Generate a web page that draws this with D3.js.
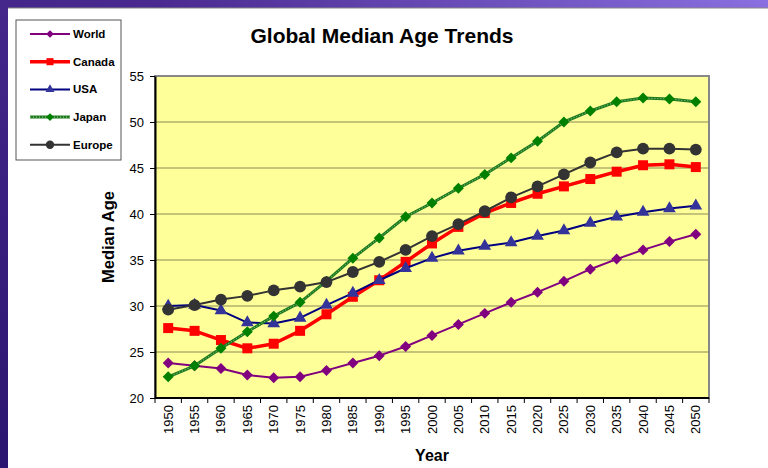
<!DOCTYPE html>
<html>
<head>
<meta charset="utf-8">
<script src="https://cdn.jsdelivr.net/npm/d3@7"></script>
<style>
  body { margin: 0; padding: 0; }
  svg { display: block; font-family: Arial, "Liberation Sans", sans-serif; }
</style>
</head>
<body>
<script>
// Chart data
var years = [1950, 1955, 1960, 1965, 1970, 1975, 1980, 1985, 1990, 1995, 2000,
             2005, 2010, 2015, 2020, 2025, 2030, 2035, 2040, 2045, 2050];
var world  = [23.8, 23.5, 23.2, 22.5, 22.2, 22.3, 23.0, 23.8, 24.6, 25.6, 26.8,
              28.0, 29.2, 30.4, 31.5, 32.7, 34.0, 35.1, 36.1, 37.0, 37.8];
var canada = [27.6, 27.3, 26.3, 25.4, 25.9, 27.3, 29.1, 31.0, 32.8, 34.8, 36.8,
              38.6, 40.1, 41.2, 42.2, 43.0, 43.8, 44.6, 45.3, 45.4, 45.1];
var usa    = [30.0, 30.1, 29.5, 28.2, 28.1, 28.7, 30.1, 31.4, 32.8, 34.1, 35.2,
              36.0, 36.5, 36.9, 37.6, 38.2, 39.0, 39.7, 40.2, 40.6, 40.9];
var japan  = [22.3, 23.5, 25.4, 27.2, 28.9, 30.4, 32.7, 35.2, 37.4, 39.7, 41.2,
              42.8, 44.3, 46.1, 47.9, 50.0, 51.2, 52.2, 52.6, 52.5, 52.2];
var europe = [29.6, 30.1, 30.7, 31.1, 31.7, 32.1, 32.6, 33.7, 34.8, 36.1, 37.6,
              38.9, 40.3, 41.8, 43.0, 44.3, 45.6, 46.7, 47.1, 47.1, 47.0];
var yTicks = [20, 25, 30, 35, 40, 45, 50, 55];

// diamonds are squares turned 45 degrees, as in the original
var series = [
  {name: "World",  values: world,  color: "#800080", marker: "#800080", width: 2, shape: d3.symbolSquare, size: 60, rot: 45},
  {name: "Canada", values: canada, color: "#ff0000", marker: "#ff0000", width: 3.5, shape: d3.symbolSquare, size: 100, rot: 0},
  {name: "USA",    values: usa,    color: "#000080", marker: "#333399", width: 2, shape: d3.symbolTriangle, size: 70, rot: 0},
  {name: "Japan",  values: japan,  color: "#1f7a1f", marker: "#008000", width: 3, shape: d3.symbolSquare, size: 60, rot: 45, dotted: true},
  {name: "Europe", values: europe, color: "#333333", marker: "#333333", width: 2, shape: d3.symbolCircle, size: 110, rot: 0}
];

var W = 768, H = 468;
var plot = {left: 155, top: 76, right: 709, bottom: 398};

var svg = d3.select("body").append("svg")
    .attr("width", W)
    .attr("height", H);

// purple slide background
var defs = svg.append("defs");
var grad = defs.append("linearGradient")
    .attr("id", "bg")
    .attr("x1", "0%").attr("y1", "100%")
    .attr("x2", "100%").attr("y2", "0%");
grad.append("stop").attr("offset", "0%").attr("stop-color", "#2a1670");
grad.append("stop").attr("offset", "60%").attr("stop-color", "#4a2a90");
grad.append("stop").attr("offset", "100%").attr("stop-color", "#8a70e0");

svg.append("rect").attr("width", W).attr("height", H).attr("fill", "url(#bg)");
svg.append("rect")
    .attr("x", 8).attr("y", 8)
    .attr("width", W - 8).attr("height", H - 8)
    .attr("fill", "#ffffff");
svg.append("line")
    .attr("x1", 8).attr("x2", W).attr("y1", 8).attr("y2", 8)
    .attr("stroke", "#888").attr("stroke-width", 1);

// scales
var x = d3.scaleBand()
    .domain(years)
    .range([plot.left, plot.right]);
var y = d3.scaleLinear()
    .domain([20, 55])
    .range([plot.bottom, plot.top]);

// plot area
svg.append("rect")
    .attr("x", plot.left).attr("y", plot.top)
    .attr("width", plot.right - plot.left)
    .attr("height", plot.bottom - plot.top)
    .attr("fill", "#ffff99")
    .attr("stroke", "#888888")
    .attr("stroke-width", 2);

// gridlines
svg.append("g")
    .selectAll("line")
    .data(yTicks.filter(function(t) { return t > 20 && t < 55; }))
    .enter()
    .append("line")
    .attr("x1", plot.left).attr("x2", plot.right)
    .attr("y1", function(d) { return y(d); })
    .attr("y2", function(d) { return y(d); })
    .attr("stroke", "#8a8a5a")
    .attr("stroke-width", 1);

// y axis
var yAxis = d3.axisLeft(y)
    .tickValues(yTicks)
    .tickSize(5)
    .tickSizeOuter(0)
    .tickPadding(6);
var gy = svg.append("g")
    .attr("transform", "translate(" + plot.left + ",0)")
    .call(yAxis);
gy.select(".domain").attr("stroke", "#000").attr("stroke-width", 2);
gy.selectAll(".tick line").attr("stroke", "#000");
gy.selectAll("text")
    .attr("font-size", "13px")
    .attr("font-family", "Arial, 'Liberation Sans', sans-serif")
    .attr("fill", "#000");

// x axis: ticks between categories
var gx = svg.append("g")
    .attr("transform", "translate(0," + plot.bottom + ")");
gx.append("line")
    .attr("x1", plot.left).attr("x2", plot.right)
    .attr("stroke", "#000").attr("stroke-width", 2);
gx.selectAll(".tk")
    .data(years.concat(["end"]))
    .enter()
    .append("line")
    .attr("class", "tk")
    .attr("x1", function(d, i) { return i < years.length ? x(d) : plot.right; })
    .attr("x2", function(d, i) { return i < years.length ? x(d) : plot.right; })
    .attr("y1", 0).attr("y2", 5)
    .attr("stroke", "#000");
gx.selectAll(".lbl")
    .data(years)
    .enter()
    .append("text")
    .attr("class", "lbl")
    .attr("transform", function(d) {
        return "translate(" + (x(d) + x.bandwidth() / 2 + 4.5) + ",7) rotate(-90)";
    })
    .attr("text-anchor", "end")
    .attr("font-size", "13px")
    .text(function(d) { return d; });

// lines and markers
var line = d3.line()
    .x(function(d, i) { return x(years[i]) + x.bandwidth() / 2; })
    .y(function(d) { return y(d); });

series.forEach(function(s) {
    svg.append("path")
        .datum(s.values)
        .attr("d", line)
        .attr("fill", "none")
        .attr("stroke", s.color)
        .attr("stroke-width", s.width)
        .attr("stroke-linejoin", "round");
    if (s.dotted) {
        svg.append("path")
            .datum(s.values)
            .attr("d", line)
            .attr("fill", "none")
            .attr("stroke", "#8fd88f")
            .attr("stroke-width", 1)
            .attr("stroke-dasharray", "1,2");
    }
    svg.append("g")
        .selectAll("path")
        .data(s.values)
        .enter()
        .append("path")
        .attr("transform", function(d, i) {
            return "translate(" + (x(years[i]) + x.bandwidth() / 2) + "," + y(d) + ") rotate(" + s.rot + ")";
        })
        .attr("d", d3.symbol().type(s.shape).size(s.size))
        .attr("fill", s.marker);
});

// title
svg.append("text")
    .attr("x", 382).attr("y", 43)
    .attr("text-anchor", "middle")
    .attr("font-size", "21px")
    .attr("font-weight", "bold")
    .text("Global Median Age Trends");

// axis titles
svg.append("text")
    .attr("transform", "translate(114," + ((plot.top + plot.bottom) / 2) + ") rotate(-90)")
    .attr("text-anchor", "middle")
    .attr("font-size", "16.5px")
    .attr("font-weight", "bold")
    .text("Median Age");

svg.append("text")
    .attr("x", 432).attr("y", 461)
    .attr("text-anchor", "middle")
    .attr("font-size", "16px")
    .attr("font-weight", "bold")
    .text("Year");

// legend
var legend = svg.append("g");
legend.append("rect")
    .attr("x", 16).attr("y", 20)
    .attr("width", 105).attr("height", 140)
    .attr("fill", "#ffffff")
    .attr("stroke", "#555")
    .attr("stroke-width", 1);

var items = legend.selectAll(".item")
    .data(series)
    .enter()
    .append("g")
    .attr("class", "item")
    .attr("transform", function(d, i) { return "translate(0," + (34 + i * 27.7) + ")"; });

items.append("line")
    .attr("x1", 30).attr("x2", 70)
    .attr("stroke", function(d) { return d.color; })
    .attr("stroke-width", function(d) { return d.width; });
items.filter(function(d) { return d.dotted; })
    .append("line")
    .attr("x1", 30).attr("x2", 70)
    .attr("stroke", "#8fd88f")
    .attr("stroke-width", 1)
    .attr("stroke-dasharray", "1,2");
items.append("path")
    .attr("transform", function(d) { return "translate(50,0) rotate(" + d.rot + ")"; })
    .attr("d", function(d) { return d3.symbol().type(d.shape).size(d.size * 0.5)(); })
    .attr("fill", function(d) { return d.marker; });
items.append("text")
    .attr("x", 73).attr("y", 4)
    .attr("font-size", "11.5px")
    .attr("font-weight", "bold")
    .text(function(d) { return d.name; });
</script>
</body>
</html>
